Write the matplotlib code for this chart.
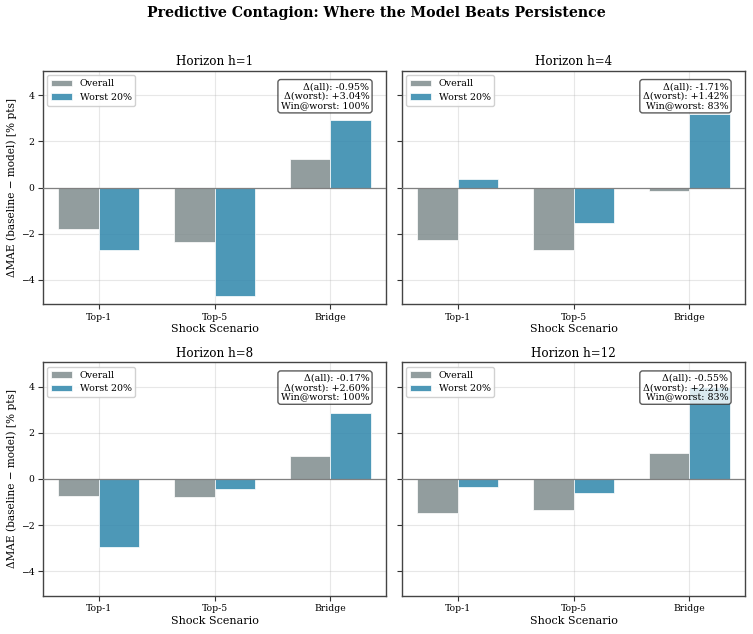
import matplotlib
matplotlib.use("Agg")
import matplotlib.pyplot as plt
import numpy as np

plt.rcParams['font.family'] = ['DejaVu Serif']

scenarios = ["Top-1", "Top-5", "Bridge"]
horizons = [1, 4, 8, 12]
overall = {
    1: [-1.79, -2.36, 1.23],
    4: [-2.29, -2.72, -0.16],
    8: [-0.75, -0.77, 0.98],
    12: [-1.47, -1.34, 1.14],
}
worst = {
    1: [-2.73, -4.69, 2.93],
    4: [0.39, -1.53, 3.20],
    8: [-2.97, -0.42, 2.86],
    12: [-0.36, -0.62, 4.00],
}
delta_all = {1: "-0.95%", 4: "-1.71%", 8: "-0.17%", 12: "-0.55%"}
delta_worst = {1: "+3.04%", 4: "+1.42%", 8: "+2.60%", 12: "+2.21%"}
win_worst = {1: "100%", 4: "83%", 8: "100%", 12: "83%"}

c_over = "#7f8c8d"
c_worst = "#2E86AB"

fig = plt.figure(figsize=(7.53, 6.34), dpi=100)
lefts = [0.0567, 0.5335]
bottoms = [0.52, 0.0604]
w, hgt = 0.4565, 0.3685
axes = []
for r in range(2):
    for c in range(2):
        ax = fig.add_axes([lefts[c], bottoms[r], w, hgt],
                          sharey=axes[0] if axes else None)
        axes.append(ax)

x = np.arange(len(scenarios))
bw = 0.35
ymax = max(max(abs(v) for v in overall[h] + worst[h]) for h in horizons) * 1.08
for i, (ax, h) in enumerate(zip(axes, horizons)):
    ax.bar(x - bw / 2, overall[h], bw, label="Overall", color=c_over, alpha=0.85,
           edgecolor="white", linewidth=0.6, zorder=2)
    ax.bar(x + bw / 2, worst[h], bw, label="Worst 20%", color=c_worst, alpha=0.85,
           edgecolor="white", linewidth=0.6, zorder=2)
    ax.axhline(0, color="gray", linewidth=0.9, zorder=3)
    ax.set_xticks(x)
    ax.set_xticklabels(scenarios, fontsize=6.7)
    ax.tick_params(axis="both", labelsize=6.7, length=3.5, color="#333333",
                   pad=2.5)
    ax.set_xlabel("Shock Scenario", fontsize=8, labelpad=2)
    ax.set_title(f"Horizon h={h}", fontsize=8.6, pad=4)
    ax.grid(True, alpha=0.3, zorder=0)
    ax.set_axisbelow(True)
    for s in ax.spines.values():
        s.set_color("#444444")
        s.set_linewidth(1.0)
    ax.legend(loc="upper left", fontsize=6.8, framealpha=0.9, handlelength=2.2)
    txt = (f"Δ(all): {delta_all[h]}\nΔ(worst): {delta_worst[h]}\n"
           f"Win@worst: {win_worst[h]}")
    ax.text(0.95, 0.95, txt, transform=ax.transAxes, ha="right", va="top",
            fontsize=6.8, linespacing=1.05, zorder=5,
            bbox=dict(boxstyle="round,pad=0.3", facecolor="white", alpha=0.8,
                      edgecolor="#333333"))
    if i % 2 == 0:
        ax.set_ylabel("ΔMAE (baseline − model) [% pts]", fontsize=7.6,
                      labelpad=2.5)
    else:
        ax.tick_params(axis="y", labelleft=False)
axes[0].set_ylim(-ymax, ymax)
axes[0].set_yticks([-4, -2, 0, 2, 4])

fig.suptitle("Predictive Contagion: Where the Model Beats Persistence",
             fontsize=10.2, fontweight="bold", y=0.99)
fig.savefig("out.png", dpi=100)
